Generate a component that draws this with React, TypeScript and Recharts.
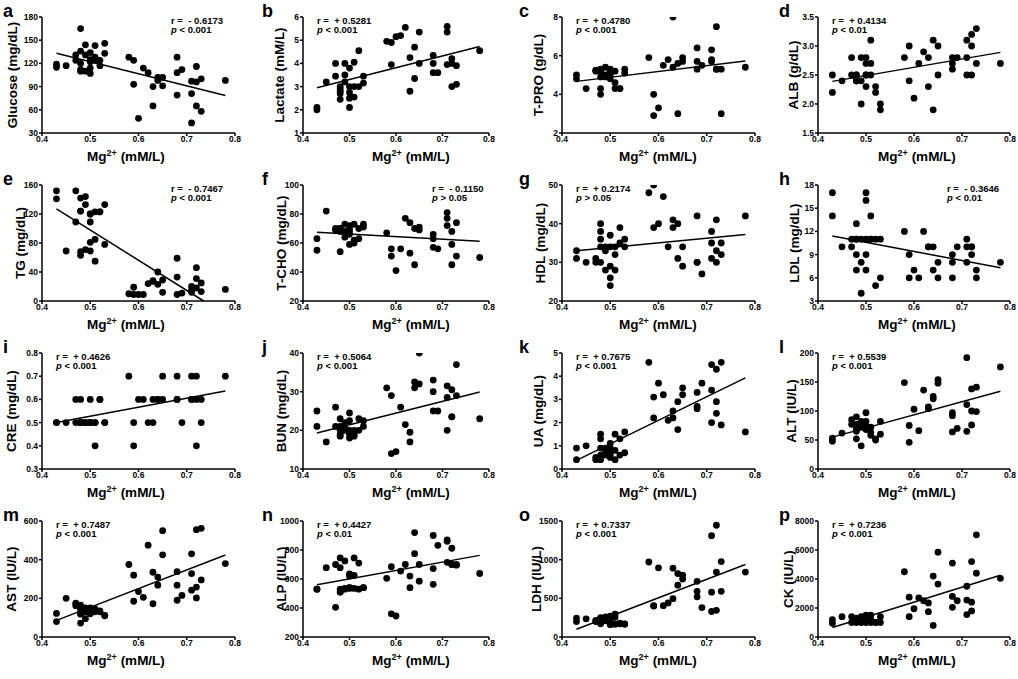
import React from 'react';
import { ScatterChart, Scatter, XAxis, YAxis, ReferenceLine } from 'recharts';

// Mg2+ of every subject (shared x for all 16 panels), grouped by value
const mg = [
  0.43, 0.43, 0.45, 0.47, 0.47, 0.48, 0.48, 0.48, 0.48, 0.48, 0.49, 0.49, 0.49,
  0.5, 0.5, 0.5, 0.5, 0.5, 0.51, 0.51, 0.51, 0.52, 0.52, 0.53, 0.53,
  0.58, 0.59, 0.59, 0.6, 0.61, 0.62, 0.63, 0.63, 0.64, 0.64, 0.65, 0.65,
  0.68, 0.68, 0.68, 0.69, 0.71, 0.71, 0.71, 0.72, 0.72, 0.72, 0.73, 0.73, 0.78,
];
const mgTicks = [0.4, 0.5, 0.6, 0.7, 0.8];

const glucose = [119, 115, 117, 131, 124, 165, 136, 120, 112, 110, 144, 131, 110, 134, 125, 122, 114, 107, 143, 128, 124, 124, 117, 146, 133,
  128, 124, 93, 49, 114, 108, 90, 65, 102, 98, 102, 91, 128, 108, 79, 112, 97, 81, 43, 116, 96, 65, 100, 58, 98];
const lactate = [2.1, 2.0, 3.2, 4.0, 3.45, 3.0, 2.9, 2.8, 2.7, 2.45, 4.0, 3.5, 3.2, 3.8, 3.0, 2.75, 2.5, 2.1, 4.05, 3.0, 2.55, 4.55, 3.0, 3.45, 3.15,
  4.95, 4.9, 3.95, 5.15, 5.2, 5.55, 4.25, 2.8, 4.7, 3.35, 5.35, 4.0, 4.35, 4.0, 3.6, 3.6, 5.6, 5.35, 3.95, 4.2, 4.0, 3.0, 3.9, 3.1, 4.55];
const tpro = [5.0, 4.8, 4.3, 5.25, 5.2, 5.3, 4.9, 4.3, 4.0, 5.2, 5.4, 5.0, 4.9, 5.3, 5.2, 4.8, 5.0, 5.25, 5.2, 4.6, 4.3, 4.3, 4.3, 5.3, 5.1,
  5.9, 4.0, 2.9, 3.3, 5.5, 5.8, 8.0, 5.4, 5.6, 3.0, 5.9, 5.7, 6.4, 5.7, 5.3, 5.5, 6.3, 5.8, 5.7, 7.5, 5.3, 5.3, 5.3, 3.0, 5.4];
const alb = [2.5, 2.2, 2.4, 2.8, 2.5, 2.5, 2.4, 2.5, 2.4, 2.4, 2.8, 2.4, 2.0, 2.8, 2.7, 2.5, 2.3, 2.5, 3.1, 2.7, 2.5, 2.3, 2.2, 2.0, 1.9,
  2.8, 3.0, 2.4, 2.1, 2.7, 2.9, 2.8, 2.3, 3.1, 1.9, 3.0, 2.5, 2.8, 2.7, 2.6, 2.8, 3.1, 2.8, 2.5, 3.2, 3.0, 2.5, 3.3, 2.7, 2.7];
const tg = [152, 141, 69, 152, 109, 142, 124, 68, 63, 124, 144, 133, 71, 120, 109, 81, 69, 120, 123, 85, 55, 123, 123, 133, 78,
  10, 19, 9, 9, 9, 24, 28, 27, 40, 23, 29, 12, 59, 33, 9, 11, 20, 15, 12, 46, 31, 18, 25, 13, 16];
const tcho = [63, 55, 82, 70, 69, 70, 54, 68, 69, 70, 73, 68, 64, 72, 70, 66, 59, 68, 73, 62, 60, 70, 63, 73, 71,
  67, 56, 51, 41, 56, 77, 74, 53, 70, 45, 71, 69, 66, 63, 57, 56, 81, 77, 72, 68, 59, 45, 74, 51, 50];
const hdl = [33, 31, 30, 31, 30, 40, 38, 36, 34, 30, 34, 33, 28, 37, 34, 29, 26, 24, 34, 32, 28, 39, 35, 36, 34,
  48, 50, 39, 40, 47, 34, 41, 39, 40, 31, 34, 29, 42, 30, 30, 27, 38, 35, 31, 41, 33, 30, 35, 32, 42];
const ldl = [17, 14, 10, 11, 10, 13, 11, 9, 7, 11, 8, 4, 11, 17, 16, 9, 7, 11, 14, 11, 11, 11, 5, 11, 6,
  12, 9, 6, 7, 6, 12, 10, 10, 10, 7, 8, 6, 9, 8, 6, 10, 11, 10, 8, 10, 9, 10, 7, 6, 8];
const cre = [0.5, 0.5, 0.5, 0.6, 0.5, 0.6, 0.5, 0.5, 0.5, 0.5, 0.5, 0.5, 0.5, 0.6, 0.5, 0.5, 0.5, 0.5, 0.5, 0.4, 0.5, 0.6, 0.6, 0.5, 0.5,
  0.7, 0.5, 0.4, 0.6, 0.6, 0.5, 0.6, 0.5, 0.6, 0.6, 0.7, 0.6, 0.7, 0.6, 0.6, 0.5, 0.7, 0.6, 0.6, 0.7, 0.6, 0.4, 0.6, 0.5, 0.7];
const bun = [25, 21, 17, 26, 21, 23, 21, 20, 19, 18.5, 22, 21, 20, 24.5, 22.5, 19, 18, 20, 20, 19, 18.5, 23, 20, 22.5, 21,
  31, 29, 14, 14.5, 26, 21.5, 19.5, 17, 32.5, 31, 40, 32, 33, 30, 25, 25, 31.5, 28.5, 20, 30.5, 23.5, 23.5, 37, 29, 23];
const ua = [0.9, 0.4, 1.0, 0.5, 0.4, 1.5, 1.3, 0.9, 0.6, 0.4, 0.9, 0.7, 0.6, 1.1, 0.9, 0.8, 0.5, 0.6, 1.5, 0.4, 0.8, 1.3, 0.6, 1.6, 0.7,
  4.6, 3.1, 2.2, 3.7, 3.2, 2.1, 2.5, 2.2, 2.9, 1.7, 3.5, 3.2, 3.3, 2.7, 2.6, 3.7, 4.5, 3.4, 2.0, 4.3, 2.9, 2.4, 4.6, 1.9, 1.6];
const alt = [53, 48, 62, 85, 77, 90, 77, 70, 65, 52, 82, 72, 40, 97, 82, 73, 68, 70, 72, 63, 58, 52, 50, 82, 60,
  149, 75, 46, 103, 66, 136, 107, 104, 125, 121, 154, 148, 97, 92, 64, 70, 192, 111, 65, 138, 100, 76, 141, 99, 176];
const ast = [122, 80, 200, 175, 162, 165, 140, 125, 118, 72, 150, 130, 95, 150, 140, 125, 120, 130, 140, 130, 145, 135, 130, 110, 112,
  375, 320, 185, 235, 205, 475, 335, 172, 310, 268, 550, 425, 338, 268, 190, 215, 430, 328, 242, 555, 258, 202, 562, 295, 380];
const alp = [530, 530, 678, 700, 405, 745, 678, 510, 530, 510, 725, 535, 530, 635, 540, 540, 535, 620, 745, 625, 535, 710, 530, 540, 540,
  605, 685, 360, 345, 655, 700, 620, 540, 920, 775, 700, 585, 900, 672, 563, 832, 870, 860, 715, 812, 700, 700, 695, 700, 638];
const ldh = [245, 200, 235, 215, 200, 250, 220, 170, 240, 180, 260, 210, 230, 270, 240, 200, 160, 170, 295, 255, 165, 180, 170, 170, 165,
  970, 405, 400, 895, 405, 440, 890, 495, 820, 670, 800, 750, 720, 590, 520, 380, 1310, 580, 330, 1445, 840, 345, 975, 590, 840];
const ck = [1200, 950, 1400, 1400, 1000, 1300, 1050, 1200, 1000, 1100, 1400, 1200, 1000, 1500, 1350, 1150, 1050, 1000, 1500, 1000, 1200, 1000, 1000, 1400, 1000,
  4500, 2750, 1400, 1950, 2700, 2500, 2350, 1750, 4200, 800, 5850, 3650, 5100, 2800, 2050, 2500, 3500, 2550, 1550, 5200, 2400, 1800, 7050, 4400, 4050];

// regression line end points: [x0, y0, x1, y1]
const fits: Record<string, number[]> = {
  a: [0.43, 133, 0.78, 78.5], b: [0.43, 2.95, 0.78, 4.73], c: [0.43, 4.67, 0.78, 5.72], d: [0.43, 2.39, 0.78, 2.89],
  e: [0.43, 127, 0.735, 0], f: [0.43, 67.4, 0.78, 61.2], g: [0.43, 33, 0.78, 37.2], h: [0.43, 11.4, 0.78, 7.3],
  i: [0.43, 0.5, 0.78, 0.636], j: [0.43, 19.3, 0.78, 29.9], k: [0.43, 0.37, 0.78, 3.93], l: [0.43, 55, 0.78, 134],
  m: [0.43, 86, 0.78, 424], n: [0.43, 560, 0.78, 763], o: [0.43, 100, 0.78, 938], p: [0.43, 650, 0.78, 4260],
};

const panels = [
  { id: 'a', name: 'Glucose (mg/dL)', ys: glucose, ticks: [30, 60, 90, 120, 150, 180], dec: 0, r: '- 0.6173', p: '< 0.001', right: true, ylx: 13 },
  { id: 'b', name: 'Lactate (mM/L)', ys: lactate, ticks: [1, 2, 3, 4, 5, 6], dec: 0, r: '+ 0.5281', p: '< 0.001', right: false, ylx: 280 },
  { id: 'c', name: 'T-PRO (g/dL)', ys: tpro, ticks: [2, 4, 6, 8], dec: 0, r: '+ 0.4780', p: '< 0.001', right: false, ylx: 539 },
  { id: 'd', name: 'ALB (g/dL)', ys: alb, ticks: [1.5, 2.0, 2.5, 3.0, 3.5], dec: 1, r: '+ 0.4134', p: '< 0.01', right: false, ylx: 794 },
  { id: 'e', name: 'TG (mg/dL)', ys: tg, ticks: [0, 40, 80, 120, 160], dec: 0, r: '- 0.7467', p: '< 0.001', right: true, ylx: 21 },
  { id: 'f', name: 'T-CHO (mg/dL)', ys: tcho, ticks: [20, 40, 60, 80, 100], dec: 0, r: '- 0.1150', p: '> 0.05', right: true, ylx: 282 },
  { id: 'g', name: 'HDL (mg/dL)', ys: hdl, ticks: [20, 30, 40, 50], dec: 0, r: '+ 0.2174', p: '> 0.05', right: false, ylx: 541 },
  { id: 'h', name: 'LDL (mg/dL)', ys: ldl, ticks: [3, 6, 9, 12, 15, 18], dec: 0, r: '- 0.3646', p: '< 0.01', right: true, ylx: 795 },
  { id: 'i', name: 'CRE (mg/dL)', ys: cre, ticks: [0.3, 0.4, 0.5, 0.6, 0.7, 0.8], dec: 1, r: '+ 0.4626', p: '< 0.001', right: false, ylx: 12 },
  { id: 'j', name: 'BUN (mg/dL)', ys: bun, ticks: [10, 20, 30, 40], dec: 0, r: '+ 0.5064', p: '< 0.001', right: false, ylx: 282 },
  { id: 'k', name: 'UA (mg/dL)', ys: ua, ticks: [0, 1, 2, 3, 4, 5], dec: 0, r: '+ 0.7675', p: '< 0.001', right: false, ylx: 539 },
  { id: 'l', name: 'ALT (IU/L)', ys: alt, ticks: [0, 50, 100, 150, 200], dec: 0, r: '+ 0.5539', p: '< 0.001', right: false, ylx: 792 },
  { id: 'm', name: 'AST (IU/L)', ys: ast, ticks: [0, 200, 400, 600], dec: 0, r: '+ 0.7487', p: '< 0.001', right: false, ylx: 12 },
  { id: 'n', name: 'ALP (IU/L)', ys: alp, ticks: [200, 400, 600, 800, 1000], dec: 0, r: '+ 0.4427', p: '< 0.01', right: false, ylx: 282 },
  { id: 'o', name: 'LDH (IU/L)', ys: ldh, ticks: [0, 500, 1000, 1500], dec: 0, r: '+ 0.7337', p: '< 0.001', right: false, ylx: 537 },
  { id: 'p', name: 'CK (IU/L)', ys: ck, ticks: [0, 2000, 4000, 6000, 8000], dec: 0, r: '+ 0.7236', p: '< 0.001', right: false, ylx: 789 },
];

const colLeft = [42, 303, 562, 818];
const colWidth = [193, 186, 193, 192];
const colLetter = [3, 262, 519, 779];
const colXLabel = [126, 411, 658, 917];
const rowTop = [17, 185, 353, 521];
const PH = 116;
const YW = 40;
const FONT = '"Liberation Sans", Arial, sans-serif';

const Dot = (props: any) => <circle cx={props.cx} cy={props.cy} r={3.4} fill="#000" />;

function Panel({ cfg, idx }: { cfg: any; idx: number }) {
  const col = idx % 4;
  const row = Math.floor(idx / 4);
  const left = colLeft[col];
  const w = colWidth[col];
  const top = rowTop[row];
  const data = mg.map((x, i) => ({ x, y: cfg.ys[i] }));
  const f = fits[cfg.id];
  const t = cfg.ticks;
  const tickStyle = { fill: '#000', fontSize: 8.5, fontWeight: 700, fontFamily: FONT };
  const noteLeft = cfg.right ? left + 129 : left + 14;

  return (
    <>
      <div style={{ position: 'absolute', left: left - YW, top: top - 10 }}>
        <ScatterChart width={YW + w + 10} height={PH + 30} margin={{ top: 10, right: 10, bottom: 0, left: 0 }}>
          <XAxis
            type="number"
            dataKey="x"
            domain={[0.4, 0.8]}
            ticks={mgTicks}
            interval={0}
            allowDataOverflow
            tickFormatter={(v: number) => v.toFixed(1)}
            height={20}
            tickSize={3}
            tickMargin={0}
            stroke="#000"
            strokeWidth={1.5}
            tick={tickStyle}
          />
          <YAxis
            type="number"
            dataKey="y"
            domain={[t[0], t[t.length - 1]]}
            ticks={t}
            interval={0}
            allowDataOverflow
            tickFormatter={(v: number) => v.toFixed(cfg.dec)}
            width={YW}
            tickSize={3}
            tickMargin={1}
            stroke="#000"
            strokeWidth={1.5}
            tick={tickStyle}
          />
          <Scatter data={data} shape={Dot} isAnimationActive={false} />
          <ReferenceLine
            segment={[{ x: f[0], y: f[1] }, { x: f[2], y: f[3] }]}
            stroke="#000"
            strokeWidth={1.5}
          />
        </ScatterChart>
      </div>
      <div style={{ position: 'absolute', left: colLetter[col], top: 2 + row * 168, fontSize: 18, lineHeight: '18px', fontWeight: 700 }}>
        {cfg.id}
      </div>
      <div
        style={{
          position: 'absolute', left: cfg.ylx - 80, top: top + PH / 2 - 9, width: 160, height: 18,
          lineHeight: '18px', textAlign: 'center', fontSize: 13.5, fontWeight: 700, whiteSpace: 'nowrap',
          transform: 'rotate(-90deg)',
        }}
      >
        {cfg.name}
      </div>
      <div
        style={{
          position: 'absolute', left: colXLabel[col] - 70, top: top + PH + 15, width: 140, height: 18,
          lineHeight: '18px', textAlign: 'center', fontSize: 13.5, fontWeight: 700, whiteSpace: 'nowrap',
        }}
      >
        Mg<sup style={{ fontSize: 9, lineHeight: 0 }}>2+</sup> (mM/L)
      </div>
      <div style={{ position: 'absolute', left: noteLeft, top: top - 1, fontSize: 9.5, lineHeight: '9px', fontWeight: 700, whiteSpace: 'pre' }}>
        <div>{'r =  ' + cfg.r}</div>
        <div><i>p</i>{' ' + cfg.p}</div>
      </div>
    </>
  );
}

export default function App() {
  return (
    <div style={{ position: 'absolute', left: 0, top: 0, width: 1018, height: 679, background: '#fff', overflow: 'hidden', fontFamily: FONT, color: '#000' }}>
      {panels.map((cfg, i) => (
        <Panel key={cfg.id} cfg={cfg} idx={i} />
      ))}
    </div>
  );
}
